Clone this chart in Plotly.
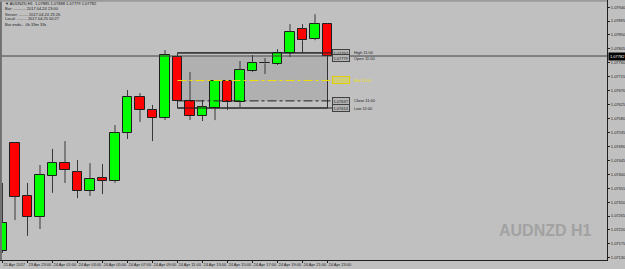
import plotly.graph_objects as go

# ---------------- data ----------------
bar_index = list(range(27))
opens = [1.07152, 1.07501, 1.07330, 1.07262, 1.07394, 1.07436, 1.07407, 1.07346, 1.07388, 1.07378,
         1.07533, 1.07650, 1.07608, 1.07582, 1.07779, 1.07637, 1.07588, 1.07614, 1.07701, 1.07633,
         1.07733, 1.07759, 1.07756, 1.07792, 1.07869, 1.07837, 1.07885]
highs = [1.07372, 1.07503, 1.07372, 1.07430, 1.07482, 1.07507, 1.07446, 1.07436, 1.07433, 1.07559,
         1.07672, 1.07662, 1.07624, 1.07801, 1.07792, 1.07730, 1.07640, 1.07704, 1.07704, 1.07766,
         1.07785, 1.07775, 1.07804, 1.07885, 1.07885, 1.07917, 1.07888]
lows = [1.07146, 1.07252, 1.07201, 1.07223, 1.07340, 1.07372, 1.07323, 1.07330, 1.07336, 1.07372,
        1.07514, 1.07569, 1.07507, 1.07575, 1.07614, 1.07575, 1.07572, 1.07575, 1.07608, 1.07617,
        1.07730, 1.07724, 1.07753, 1.07779, 1.07792, 1.07833, 1.07779]
closes = [1.07243, 1.07327, 1.07262, 1.07398, 1.07436, 1.07414, 1.07346, 1.07385, 1.07378, 1.07533,
          1.07650, 1.07608, 1.07582, 1.07785, 1.07637, 1.07588, 1.07617, 1.07701, 1.07633, 1.07737,
          1.07759, 1.07758, 1.07792, 1.07859, 1.07833, 1.07885, 1.07782]

x_tick_vals = [0, 2, 4, 6, 8, 10, 12, 14, 16, 18, 20, 22, 24, 26]
x_tick_text = ["21 Apr 2017", "23 Apr 23:00", "24 Apr 01:00", "24 Apr 03:00", "24 Apr 05:00",
               "24 Apr 07:00", "24 Apr 09:00", "24 Apr 11:00", "24 Apr 13:00", "24 Apr 15:00",
               "24 Apr 17:00", "24 Apr 19:00", "24 Apr 21:00", "24 Apr 23:00"]
y_tick_vals = [1.07940, 1.07895, 1.07850, 1.07805, 1.07760, 1.07715, 1.07670, 1.07625, 1.07580,
               1.07535, 1.07490, 1.07445, 1.07400, 1.07355, 1.07310, 1.07265, 1.07220, 1.07175, 1.07130]

ref_bar = 14          # the 24 Apr 11:00 candle
box_end_bar = 26
header_lines = ["\u25bc AUDNZD,H1  1.07885 1.07888 1.07779 1.07782",
                "Bar: ........... 2017.04.24 23:00",
                "Server: ........ 2017.04.24 23:26",
                "Local: ......... 2017.04.25 00:27",
                "Bar ends... 0h 33m 33s"]
watermark = "AUDNZD H1"

# ---------------- styling ----------------
BG = "#c0c0c0"
UP = "#00ff00"
DOWN = "#ff0000"
WICK = "#383838"
EDGE = "#1e1e1e"
FS = 4

fig = go.Figure()

# wicks (split above/below body so they never overlap the body)
wx, wy = [], []
for i, o, h, l, c in zip(bar_index, opens, highs, lows, closes):
    top, bot = max(o, c), min(o, c)
    wx += [i, i, None, i, i, None]
    wy += [h, top, None, bot, l, None]
fig.add_trace(go.Scatter(x=wx, y=wy, mode="lines", line=dict(color=WICK, width=1),
                         hoverinfo="skip", showlegend=False))

bases = [min(o, c) for o, c in zip(opens, closes)]
heights = [max(abs(c - o), 0.000012) for o, c in zip(opens, closes)]
colors = [UP if c > o else (DOWN if c < o else EDGE) for o, c in zip(opens, closes)]
fig.add_trace(go.Bar(x=bar_index, y=heights, base=bases, width=0.76,
                     marker=dict(color=colors, line=dict(color=EDGE, width=1)),
                     showlegend=False, hoverinfo="skip"))

# ---------------- reference-candle box ----------------
rH, rO, rL, rC = highs[ref_bar], opens[ref_bar], lows[ref_bar], closes[ref_bar]
rM = (rH + rL) / 2
line_end = box_end_bar + 0.36
shapes = [
    dict(type="rect", xref="x", yref="y", x0=ref_bar, x1=box_end_bar, y0=rC, y1=rO,
         fillcolor="#b0b0b0", line=dict(width=0), layer="below"),
    dict(type="rect", xref="x", yref="y", x0=ref_bar, x1=box_end_bar, y0=rL, y1=rH,
         fillcolor="rgba(0,0,0,0)", line=dict(color="#303030", width=1), layer="below"),
    dict(type="line", xref="x", yref="y", x0=ref_bar, x1=line_end, y0=rH, y1=rH,
         line=dict(color="#202020", width=1)),
    dict(type="line", xref="x", yref="y", x0=ref_bar, x1=line_end, y0=rL, y1=rL,
         line=dict(color="#202020", width=1)),
    dict(type="line", xref="x", yref="y", x0=ref_bar, x1=line_end, y0=rM, y1=rM,
         line=dict(color="#f0e000", width=1, dash="dashdot")),
    dict(type="line", xref="x", yref="y", x0=ref_bar, x1=line_end, y0=rC, y1=rC,
         line=dict(color="#202020", width=1, dash="dashdot")),
    # current price line
    dict(type="line", xref="paper", yref="y", x0=0, x1=1, y0=closes[-1], y1=closes[-1],
         line=dict(color="#404040", width=1)),
    # window borders
    dict(type="line", xref="paper", yref="paper", x0=0.0015, x1=0.0015, y0=0, y1=1,
         line=dict(color="#707070", width=2)),
    dict(type="line", xref="paper", yref="paper", x0=0, x1=1, y0=0.997, y1=0.997,
         line=dict(color="#9a9a9a", width=2)),
]

annotations = []
label_x = box_end_bar + 1.04
text_x = box_end_bar + 1.96
for val, name, col, bg in [(rH, "High 11:00", "#202020", "#b4b4b4"),
                           (rO, "Open 11:00", "#202020", "#b4b4b4"),
                           (rM, "Mid 11:00", "#f0e000", "#c8c890"),
                           (rC, "Close 11:00", "#202020", "#b4b4b4"),
                           (rL, "Low 11:00", "#202020", "#b4b4b4")]:
    yv = val - 0.00004 if name.startswith("Open") else val
    annotations.append(dict(x=label_x, y=yv, xref="x", yref="y", text=f"{val:.5f}",
                            showarrow=False, font=dict(size=FS, color=col, family="Liberation Sans"),
                            bgcolor=bg, bordercolor=("#e0d000" if col != "#202020" else "#404040"),
                            borderwidth=1, borderpad=0.5, xanchor="center", yanchor="middle"))
    annotations.append(dict(x=text_x, y=yv, xref="x", yref="y", text=name, showarrow=False,
                            font=dict(size=FS, color=col, family="Liberation Sans"),
                            xanchor="left", yanchor="middle"))

# current price tag on the price scale
annotations.append(dict(x=1.0, y=closes[-1], xref="paper", yref="y", text=f"{closes[-1]:.5f}",
                        showarrow=False, font=dict(size=FS, color="white", family="Liberation Sans"),
                        bgcolor="black", borderpad=1, xanchor="left", yanchor="middle", xshift=1))

# header text (pixel positions converted to paper coords)
plot_w, plot_h = 607.0, 260.0
for k, line in enumerate(header_lines):
    annotations.append(dict(x=3 / plot_w, y=1 - (4 + k * 5.0) / plot_h, xref="paper", yref="paper",
                            text=line, showarrow=False,
                            font=dict(size=FS, color="#202020", family="Liberation Sans"),
                            xanchor="left", yanchor="middle"))

# watermark
annotations.append(dict(x=545 / plot_w, y=1 - 230 / plot_h, xref="paper", yref="paper",
                        text=f"<b>{watermark}</b>", showarrow=False,
                        font=dict(size=16, color="#a2a2a2", family="Liberation Sans"),
                        xanchor="center", yanchor="middle"))

fig.update_layout(
    width=625, height=269,
    margin=dict(l=0, r=18, t=0, b=9, pad=0, autoexpand=False),
    paper_bgcolor=BG, plot_bgcolor=BG,
    bargap=0, showlegend=False,
    shapes=shapes, annotations=annotations,
    font=dict(family="Liberation Sans", size=FS, color="#202020"),
)
fig.update_xaxes(range=[-0.2, 48.36], tickvals=x_tick_vals, ticktext=x_tick_text, tickangle=0,
                 automargin=False,
                 ticks="outside", ticklen=2, tickcolor="#202020", ticklabelposition="outside right",
                 tickfont=dict(size=FS, color="#202020"), showgrid=False, zeroline=False,
                 showline=True, linecolor="#202020", linewidth=1, fixedrange=True)
fig.update_yaxes(range=[1.07123, 1.07963], side="right", tickvals=y_tick_vals, tickformat=".5f",
                 automargin=False,
                 ticks="outside", ticklen=2, tickcolor="#202020",
                 tickfont=dict(size=FS, color="#202020"), showgrid=False, zeroline=False,
                 showline=True, linecolor="#202020", linewidth=1, fixedrange=True)

fig.write_html("out.html")
